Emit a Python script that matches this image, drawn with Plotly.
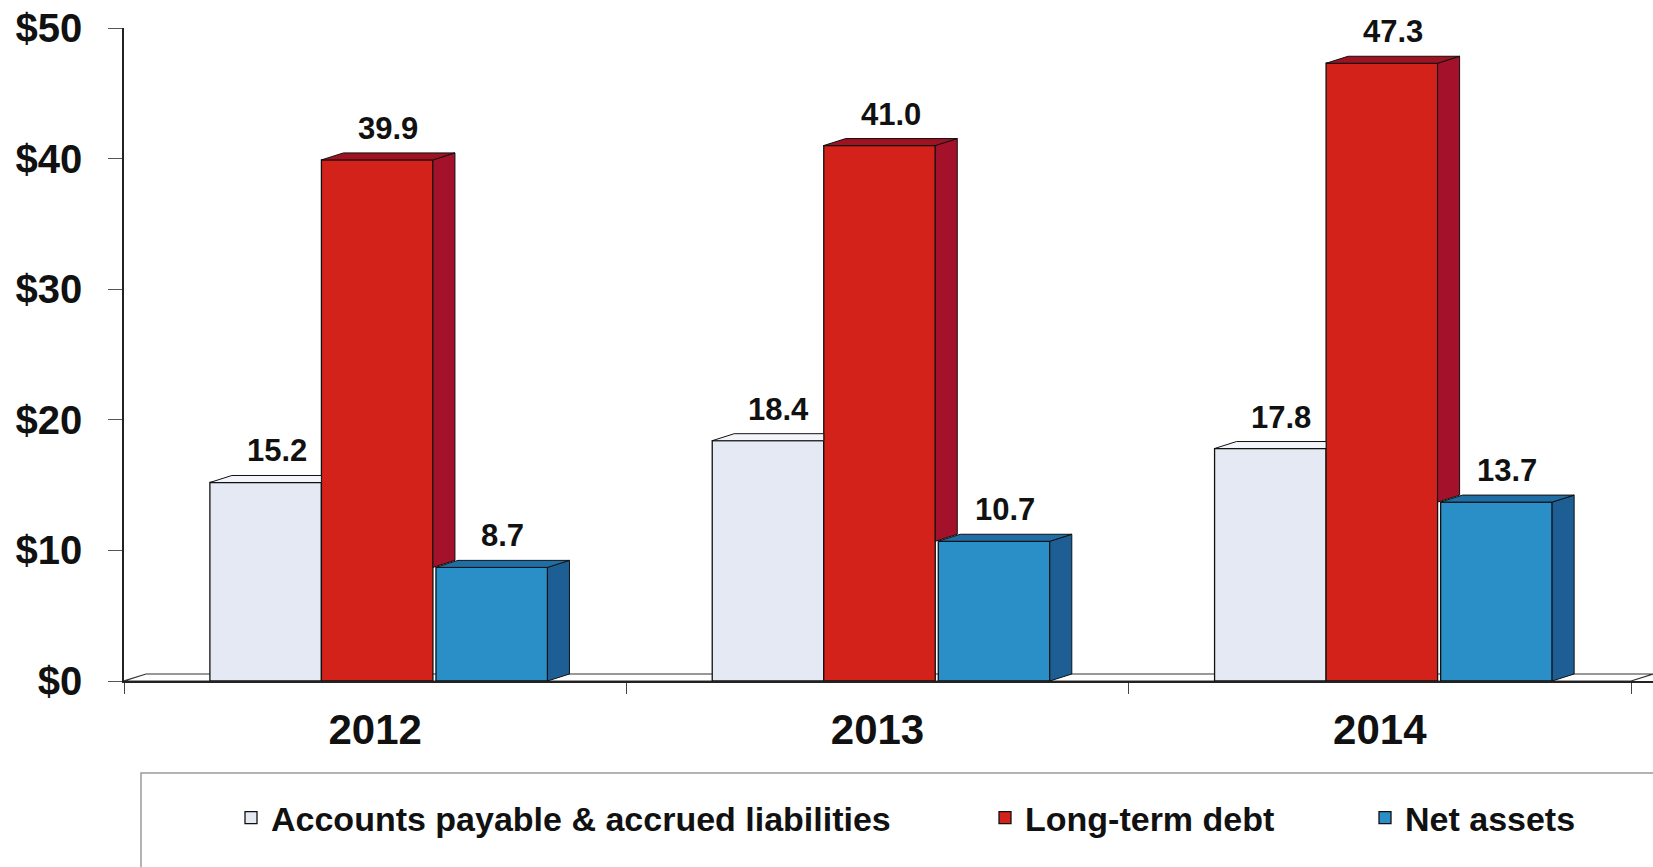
import plotly.graph_objects as go

# ---------------- data ----------------
years = ["2012", "2013", "2014"]
series_names = ["Accounts payable & accrued liabilities", "Long-term debt", "Net assets"]
accounts_payable = [15.2, 18.4, 17.8]
long_term_debt = [39.9, 41.0, 47.3]
net_assets = [8.7, 10.7, 13.7]
y_tick_values = [0, 10, 20, 30, 40, 50]
y_tick_labels = ["$0", "$10", "$20", "$30", "$40", "$50"]

# ---------------- styling / geometry ----------------
W, H = 1653, 867
ML, MR, MT, MB = 124, 0, 28, 186
PW, PH = W - ML - MR, H - MT - MB
DEPTH_PX_X, DEPTH_PX_Y = 22, 7
DX = DEPTH_PX_X * 3 / PW / (1 - DEPTH_PX_X / PW)   # depth in x data units
Y_MAX = 50
DY = DEPTH_PX_Y * Y_MAX / PH                        # depth in y data units
BW = 0.222                                          # bar width (category units)
GAP = 0.006                                         # small gap before the last bar

FONT = "Liberation Sans, Arial, Helvetica, sans-serif"
front_colors = ["#E4E9F3", "#D3221A", "#2B8FC7"]
top_colors = ["#F3F5FA", "#9E1222", "#1F6EA6"]
side_colors = ["#C9CFDC", "#A3122A", "#1D5F95"]
EDGE = "#111111"

series = [accounts_payable, long_term_debt, net_assets]
xs = list(range(len(years)))
offsets = [-1.5 * BW + 0.004, -0.5 * BW + 0.004, 0.5 * BW + 0.004 + GAP]

fig = go.Figure()

# front faces as real bars
for k, (name, vals) in enumerate(zip(series_names, series)):
    fig.add_trace(go.Bar(
        x=xs, y=vals, name=name, width=BW, offset=offsets[k],
        marker=dict(color=front_colors[k], line=dict(color=EDGE, width=1.3)),
        legend="legend" if k == 0 else f"legend{k + 1}",
        hoverinfo="skip",
    ))

# 3-D top and side faces, computed from the same values
for k, vals in enumerate(series):
    tx, ty, sx, sy = [], [], [], []
    for i, v in enumerate(vals):
        x0 = xs[i] + offsets[k]
        x1 = x0 + BW
        nxt = series[k + 1][i] if k + 1 < len(series) else None
        if nxt is not None and nxt >= v:
            # next bar taller: top face clipped at x1, side hidden
            tx += [x0, x1, x1, x0 + DX, x0, None]
            ty += [v, v, v + DY, v + DY, v, None]
        else:
            b = nxt if nxt is not None else 0
            tx += [x0, x1, x1 + DX, x0 + DX, x0, None]
            ty += [v, v, v + DY, v + DY, v, None]
            sx += [x1, x1, x1 + DX, x1 + DX, x1, None]
            sy += [b, v, v + DY, b + DY, b, None]
    if sx:
        fig.add_trace(go.Scatter(x=sx, y=sy, mode="lines", fill="toself",
                                 fillcolor=side_colors[k], line=dict(color=EDGE, width=1),
                                 showlegend=False, hoverinfo="skip"))
    fig.add_trace(go.Scatter(x=tx, y=ty, mode="lines", fill="toself",
                             fillcolor=top_colors[k], line=dict(color=EDGE, width=1),
                             showlegend=False, hoverinfo="skip"))

# value labels
annotations = []
for k, vals in enumerate(series):
    for i, v in enumerate(vals):
        annotations.append(dict(
            x=xs[i] + offsets[k] + BW / 2 + DX / 2, y=v + DY, xref="x", yref="y",
            text=f"{v:.1f}", showarrow=False, yanchor="bottom", yshift=5,
            font=dict(family=FONT, size=31, color="#111111", weight="bold"),
        ))

# floor of the 3-D chart
x_lo, x_hi = -0.5, len(years) - 0.5
floor_path = (f"M {x_lo} 0 L {x_hi} 0 L {x_hi + DX} {DY} L {x_lo + DX} {DY} Z")
shapes = [
    dict(type="path", path=floor_path, xref="x", yref="y", layer="below",
         fillcolor="#FFFFFF", line=dict(color="#333333", width=1.2)),
    # legend frame
    dict(type="rect", xref="paper", yref="paper",
         x0=(141 - ML) / PW, x1=1.2, y0=-(773 - (MT + PH)) / PH, y1=-0.6,
         line=dict(color="#9A9A9A", width=1.5), fillcolor="rgba(0,0,0,0)", layer="below"),
]

legend_font = dict(family=FONT, size=34, color="#111111", weight="bold")
legend_text_starts = [272, 1026, 1406]
legend_y = -(818 - (MT + PH)) / PH
legend_common = dict(orientation="h", yanchor="middle", xanchor="left",
                     bgcolor="rgba(0,0,0,0)", borderwidth=0, font=legend_font,
                     itemclick=False, itemdoubleclick=False)

fig.update_layout(
    width=W, height=H,
    margin=dict(l=ML, r=MR, t=MT, b=MB, pad=0),
    paper_bgcolor="white", plot_bgcolor="white",
    barmode="overlay",
    showlegend=True,
    legend=dict(x=(legend_text_starts[0] - 41 - ML) / PW, y=legend_y, **legend_common),
    legend2=dict(x=(legend_text_starts[1] - 41 - ML) / PW, y=legend_y, **legend_common),
    legend3=dict(x=(legend_text_starts[2] - 41 - ML) / PW, y=legend_y, **legend_common),
    xaxis=dict(
        range=[x_lo, x_hi + DX], tickmode="array", tickvals=xs, ticktext=years,
        ticks="", showgrid=False, zeroline=False,
        showline=True, linecolor="#222222", linewidth=1.5,
        tickfont=dict(family=FONT, size=42, color="#111111", weight="bold"),
        ticklabelstandoff=11,
        minor=dict(tickmode="array", tickvals=[x + 0.5 for x in [-1] + xs],
                   ticks="outside", ticklen=11, tickcolor="#444444", tickwidth=1.2,
                   showgrid=False),
        fixedrange=True,
    ),
    yaxis=dict(
        range=[0, Y_MAX], tickmode="array", tickvals=y_tick_values, ticktext=y_tick_labels,
        ticks="outside", ticklen=14, tickcolor="#555555", tickwidth=1.2,
        showgrid=False, zeroline=False,
        showline=True, linecolor="#222222", linewidth=1.5,
        tickfont=dict(family=FONT, size=40, color="#111111", weight="bold"),
        ticklabelstandoff=18,
        fixedrange=True,
    ),
    annotations=annotations,
    shapes=shapes,
)

fig.write_html("out.html")
